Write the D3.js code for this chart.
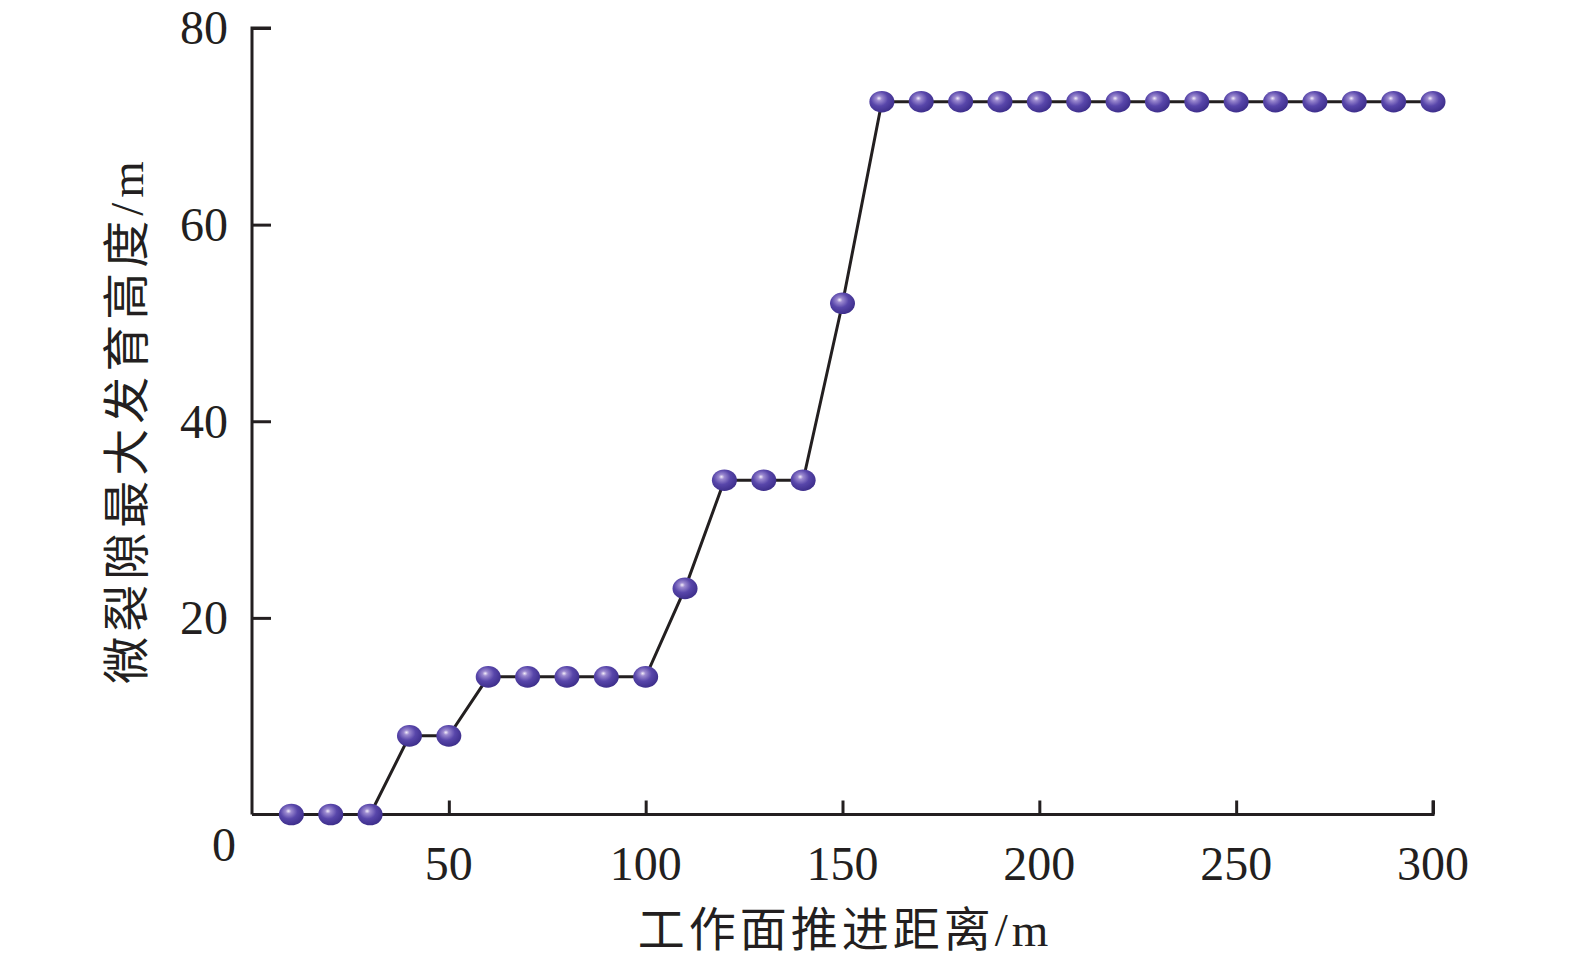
<!DOCTYPE html>
<html>
<head>
<meta charset="utf-8">
<script src="https://cdn.jsdelivr.net/npm/d3@7"></script>
<style>
  html, body { margin: 0; padding: 0; background: #fff; }
  svg { display: block; }
</style>
</head>
<body>
<svg id="chart" width="1575" height="966"></svg>
<script>
// ---- data ----
const distances = [10,20,30,40,50,60,70,80,90,100,110,120,130,140,150,160,170,180,190,200,210,220,230,240,250,260,270,280,290,300];
const heights   = [0,0,0,8,8,14,14,14,14,14,23,34,34,34,52,72.5,72.5,72.5,72.5,72.5,72.5,72.5,72.5,72.5,72.5,72.5,72.5,72.5,72.5,72.5];
const xTicks = [50,100,150,200,250,300];
const yTicks = [20,40,60,80];
const xTitle = "工作面推进距离/m";
const yTitle = "微裂隙最大发育高度/m";

// ---- layout ----
const svg = d3.select("#chart");
const X0 = 252, X1 = 1433, Y0 = 814.5, Y1 = 28;
const x = d3.scaleLinear().domain([0, 300]).range([X0, X1]);
const y = d3.scaleLinear().domain([0, 80]).range([Y0, Y1]);
const ink = "#231f20";
const numFont = "'Liberation Serif','Times New Roman',serif";
const cjkFont = "'Liberation Serif','Noto Sans CJK SC',serif";

// gradient for markers
const defs = svg.append("defs");
const grad = defs.append("radialGradient").attr("id", "ball")
  .attr("cx", "0.42").attr("cy", "0.38").attr("r", "0.62")
  .attr("fx", "0.38").attr("fy", "0.34");
grad.append("stop").attr("offset", "0").attr("stop-color", "#f4eefa");
grad.append("stop").attr("offset", "0.18").attr("stop-color", "#9c8ad0");
grad.append("stop").attr("offset", "0.55").attr("stop-color", "#5846aa");
grad.append("stop").attr("offset", "1").attr("stop-color", "#3e2f8c");

// axes
const xAxis = d3.axisBottom(x).tickValues(xTicks).tickSize(-14).tickPadding(0).tickFormat("");
const gx = svg.append("g").attr("transform", `translate(0,${Y0})`).call(xAxis);
gx.select(".domain").attr("d", `M${X0},0H${X1}V-14`).attr("stroke", ink).attr("stroke-width", 3).attr("fill", "none");
gx.selectAll(".tick line").attr("stroke", ink).attr("stroke-width", 3);

const yAxis = d3.axisLeft(y).tickValues(yTicks).tickSize(-19).tickFormat("");
const gy = svg.append("g").attr("transform", `translate(${X0},0)`).call(yAxis);
gy.select(".domain").attr("d", `M0,${Y0}V${Y1}H19`).attr("stroke", ink).attr("stroke-width", 3).attr("fill", "none");
gy.selectAll(".tick line").attr("stroke", ink).attr("stroke-width", 3);

// tick labels
svg.append("g").selectAll("text").data(xTicks).join("text")
  .attr("x", d => x(d)).attr("y", 880)
  .attr("text-anchor", "middle")
  .attr("font-family", numFont).attr("font-size", 48).attr("fill", ink)
  .text(d => d);
svg.append("g").selectAll("text").data(yTicks).join("text")
  .attr("x", 228).attr("y", d => y(d))
  .attr("dy", "0.34em")
  .attr("text-anchor", "end")
  .attr("font-family", numFont).attr("font-size", 48).attr("fill", ink)
  .text(d => d);
svg.append("text").attr("x", 224).attr("y", 861)
  .attr("text-anchor", "middle")
  .attr("font-family", numFont).attr("font-size", 48).attr("fill", ink)
  .text("0");

// axis titles
svg.append("text").attr("x", 845).attr("y", 946)
  .attr("text-anchor", "middle")
  .attr("font-family", cjkFont).attr("font-size", 47).attr("letter-spacing", 4).attr("fill", ink)
  .text(xTitle);
svg.append("text")
  .attr("transform", `translate(143,420) rotate(-90)`)
  .attr("text-anchor", "middle")
  .attr("font-family", cjkFont).attr("font-size", 47).attr("letter-spacing", 5).attr("fill", ink)
  .text(yTitle);

// line
const pts = distances.map((d, i) => [d, heights[i]]);
svg.append("path").datum(pts)
  .attr("d", d3.line().x(d => x(d[0])).y(d => y(d[1])))
  .attr("fill", "none").attr("stroke", ink).attr("stroke-width", 3);

// markers
svg.append("g").selectAll("ellipse").data(pts).join("ellipse")
  .attr("cx", d => x(d[0])).attr("cy", d => y(d[1]))
  .attr("rx", 12.5).attr("ry", 10.8)
  .attr("fill", "url(#ball)");
</script>
</body>
</html>
